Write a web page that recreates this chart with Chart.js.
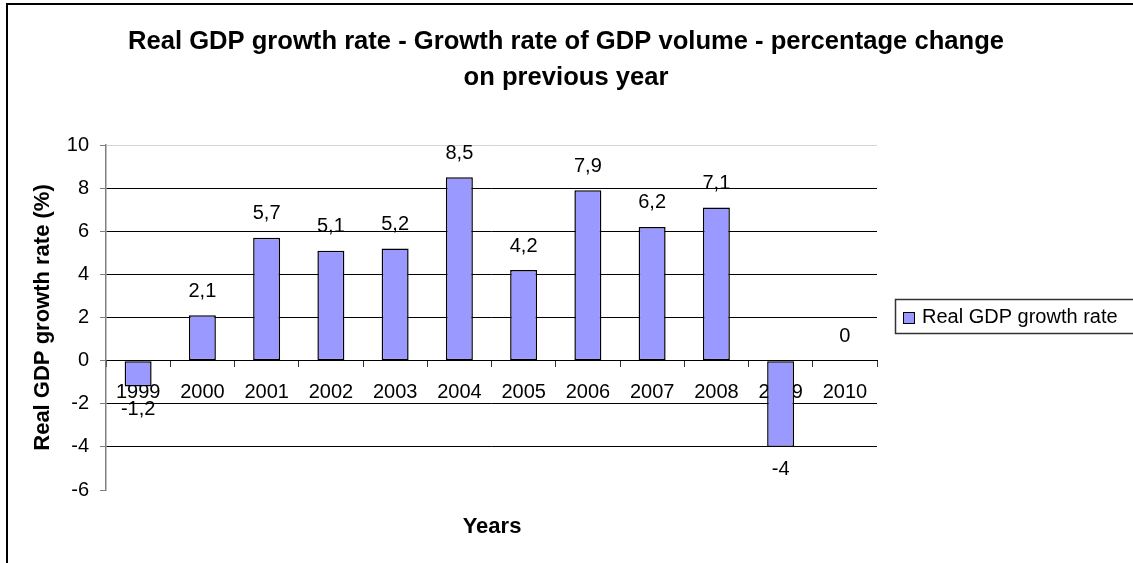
<!DOCTYPE html>
<html>
<head>
<meta charset="utf-8">
<title>Real GDP growth rate</title>
<script src="https://cdn.jsdelivr.net/npm/chart.js@4"></script>
<style>
  html, body { margin:0; padding:0; background:#fff; }
  #wrap { position:relative; width:1133px; height:563px; }
</style>
</head>
<body>
<div id="wrap"><canvas id="gdp"></canvas></div>
<script>
// Real GDP growth rate, % change on previous year
const YEARS = ['1999','2000','2001','2002','2003','2004','2005','2006','2007','2008','2009','2010'];
const GROWTH = [-1.2, 2.1, 5.7, 5.1, 5.2, 8.5, 4.2, 7.9, 6.2, 7.1, -4, 0];
const Y_MIN = -6, Y_MAX = 10, Y_STEP = 2;
const TITLE_LINES = ['Real GDP growth rate - Growth rate of GDP volume - percentage change', 'on previous year'];
const SERIES_NAME = 'Real GDP growth rate';

const FONT = 'Liberation Sans, Arial, sans-serif';
const BAR_FILL = '#9999ff';

const fmt = v => String(v).replace('.', ',');

// frame, title, x title, legend box and value labels
const decor = {
  id:'decor',
  afterDraw(chart){
    const ctx = chart.ctx;
    ctx.save();

    // outer frame (runs off right / bottom like the source)
    ctx.strokeStyle = '#000';
    ctx.lineWidth = 2;
    ctx.strokeRect(7, 4, 1140, 570);

    // title, centred on the whole chart
    ctx.fillStyle = '#000';
    ctx.font = 'bold 25px ' + FONT;
    ctx.textAlign = 'center';
    ctx.textBaseline = 'alphabetic';
    const w0 = ctx.measureText(TITLE_LINES[0]).width;
    const sx = 876 / w0;
    TITLE_LINES.forEach((t, i) => {
      ctx.save();
      ctx.translate(566, 49 + i * 36);
      ctx.scale(sx, 1);
      ctx.fillText(t, 0, 0);
      ctx.restore();
    });

    // x axis title
    ctx.textBaseline = 'middle';
    ctx.font = 'bold 22px ' + FONT;
    ctx.fillText('Years', 492, 527);

    // legend
    ctx.strokeStyle = '#333';
    ctx.lineWidth = 1.5;
    ctx.strokeRect(895.5, 299.5, 260, 34);
    ctx.fillStyle = BAR_FILL;
    ctx.fillRect(903.5, 312.5, 11, 11);
    ctx.strokeStyle = '#000';
    ctx.lineWidth = 1;
    ctx.strokeRect(903.5, 312.5, 11, 11);
    ctx.fillStyle = '#000';
    ctx.font = '20px ' + FONT;
    ctx.textAlign = 'left';
    ctx.fillText(SERIES_NAME, 922, 317);

    // value labels
    ctx.textAlign = 'center';
    const meta = chart.getDatasetMeta(0);
    meta.data.forEach((bar, i) => {
      const v = GROWTH[i];
      const y = v < 0 ? bar.y + 23 : bar.y - 24;
      ctx.fillText(fmt(v), bar.x, y);
    });

    ctx.restore();
  }
};

new Chart(document.getElementById('gdp'), {
  type:'bar',
  data:{
    labels:YEARS,
    datasets:[{
      label:SERIES_NAME,
      data:GROWTH,
      backgroundColor:BAR_FILL,
      borderColor:'#000',
      borderWidth:1.5,
      borderSkipped:false,
      categoryPercentage:1,
      barPercentage:0.42
    }]
  },
  options:{
    responsive:true, maintainAspectRatio:false,
    animation:false,
    layout:{ padding:{ top:145, right:256, bottom:73, left:0 } },
    plugins:{ legend:{ display:false }, title:{ display:false }, tooltip:{ enabled:false } },
    scales:{
      x:{
        position:{ y:0 },
        offset:true,
        z:1,
        grid:{ drawOnChartArea:false, drawTicks:true, tickLength:6, color:'#333', offset:true },
        border:{ display:true, color:'#000', width:1 },
        ticks:{ color:'#000', font:{ family:FONT, size:20 }, padding:14, maxRotation:0, autoSkip:false }
      },
      y:{
        min:Y_MIN, max:Y_MAX,
        afterFit: s => { s.width = 106; },
        grid:{
          color: c => {
            const v = c.tick ? c.tick.value : null;
            if (v === Y_MAX) return '#d4d4d4';
            if (v === Y_MIN) return 'rgba(0,0,0,0)';
            return '#000';
          },
          tickColor:'#808080', tickLength:6
        },
        border:{ color:'#808080', width:1.5 },
        ticks:{ stepSize:Y_STEP, color:'#000', font:{ family:FONT, size:20 }, padding:11 },
        title:{
          display:true, text:'Real GDP growth rate (%)', color:'#000',
          font:{ family:FONT, size:22, weight:'bold' },
          padding:{ top:30, bottom:0 }
        }
      }
    }
  },
  plugins:[decor]
});
</script>
</body>
</html>
